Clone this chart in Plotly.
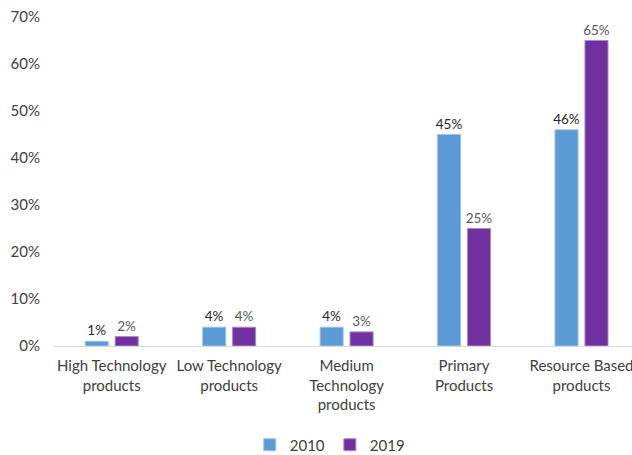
import plotly.graph_objects as go

categories = [
    "High Technology<br>products",
    "Low Technology<br>products",
    "Medium<br>Technology<br>products",
    "Primary<br>Products",
    "Resource Based<br>products",
]
share_2010 = [0.01, 0.04, 0.04, 0.45, 0.46]
share_2019 = [0.02, 0.04, 0.03, 0.25, 0.65]
y_ticks = [0, 0.1, 0.2, 0.3, 0.4, 0.5, 0.6, 0.7]

FONT = "Lato, 'Open Sans', sans-serif"

fig = go.Figure()
fig.add_trace(go.Bar(
    name="2010", x=categories, y=share_2010,
    marker=dict(color="#5B9BD5", line=dict(color="#9DC3E6", width=1)),
    texttemplate="%{y:.0%}", textposition="outside", constraintext="none",
    textfont=dict(family=FONT, size=13.5, color="#262626"),
    cliponaxis=False,
))
fig.add_trace(go.Bar(
    name="2019", x=categories, y=share_2019,
    marker=dict(color="#7030A0", line=dict(color="#A98BC6", width=1)),
    texttemplate="%{y:.0%}", textposition="outside", constraintext="none",
    textfont=dict(family=FONT, size=13.5, color="#595959"),
    cliponaxis=False,
))

fig.update_layout(
    width=632, height=455,
    margin=dict(l=53, r=0, t=17, b=109),
    paper_bgcolor="white", plot_bgcolor="white",
    barmode="group", bargap=0.49, bargroupgap=0.23,
    font=dict(family=FONT, size=15, color="#404040"),
    showlegend=True,
    legend=dict(orientation="h", x=0.478, xanchor="center",
                yref="container", y=0.022, yanchor="middle",
                font=dict(family=FONT, size=15, color="#404040"),
                itemwidth=30, traceorder="normal"),
)
fig.update_xaxes(
    range=[-0.5, 4.43], showgrid=False, showline=True, linecolor="#D9D9D9",
    linewidth=1, ticks="", automargin=False, ticklabelstandoff=6,
    tickfont=dict(family=FONT, size=15, color="#404040"),
)
fig.update_yaxes(
    range=[0, 0.7], tickvals=y_ticks, tickformat=".0%", showgrid=False,
    showline=False, zeroline=False, ticks="", ticklabelstandoff=12,
    automargin=False,
    tickfont=dict(family=FONT, size=15, color="#404040"),
)

fig.write_html("out.html")
